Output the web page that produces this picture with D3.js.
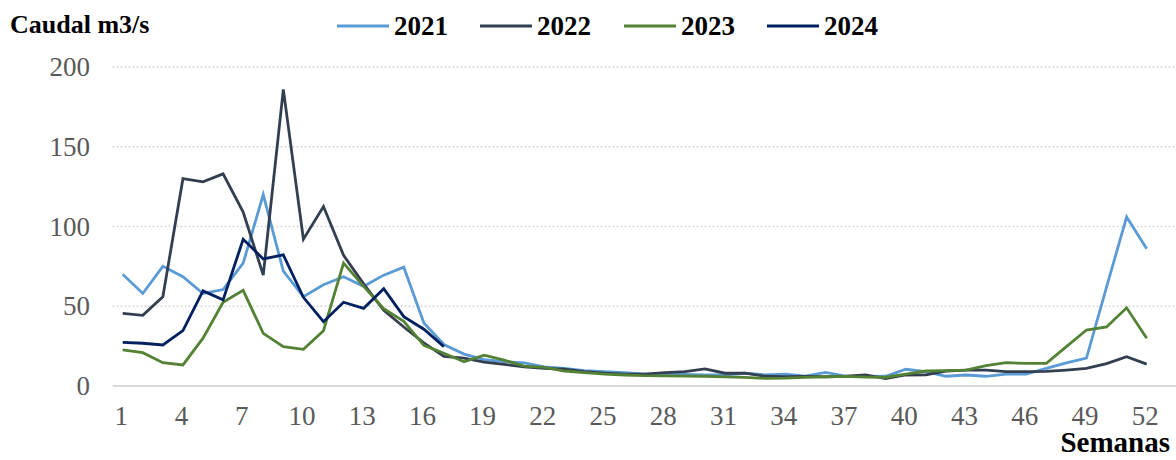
<!DOCTYPE html>
<html>
<head>
<meta charset="utf-8">
<script src="https://cdn.jsdelivr.net/npm/d3@7"></script>
<style>
  body { margin: 0; background: #fff; }
  svg text { font-family: 'Liberation Serif', 'Times New Roman', serif; }
</style>
</head>
<body>
<div id="chart"></div>
<script>
// weeks 1..52
var weeks = d3.range(1, 53);
var xTicks = [1, 4, 7, 10, 13, 16, 19, 22, 25, 28, 31, 34, 37, 40, 43, 46, 49, 52];
var yTicks = [0, 50, 100, 150, 200];

var names = ["2021", "2022", "2023", "2024"];
var colors = ["#5b9bd5", "#333f50", "#548235", "#002060"];

// caudal m3/s por semana
var q2021 = [70, 58, 75, 68.5, 58, 60.5, 77, 120, 72, 56,
  63.5, 68.5, 62.5, 69.5, 74.5, 39.5, 26, 20, 16.5, 15.3,
  14.5, 12, 11, 9.7, 9, 8.4, 7.5, 7.5, 7.2, 7, 7, 8, 7, 7.5,
  6.2, 8.5, 6.2, 6, 6.1, 10.5, 9, 6.1, 6.9, 6.1, 7.5, 7.5,
  11, 14.5, 17.5, 62, 106, 86];
var q2022 = [45.5, 44.3, 56, 130, 128, 133, 109, 69.5, 186, 92,
  112.5, 82, 64, 47.5, 37, 27, 18.5, 17.5, 15, 13.6,
  12, 11, 10.5, 9, 8, 7.5, 7.5, 8.4, 9, 10.7, 8, 8, 6.1, 5.8,
  6, 5.8, 6.1, 6.9, 4.6, 6.9, 7, 9.4, 10, 10, 9, 9,
  9.2, 10, 11, 14, 18.4, 13.7];
var q2023 = [22.6, 20.9, 14.6, 13.2, 30, 52.5, 60, 33, 24.7, 23,
  34.7, 77, 62.5, 48.5, 40.5, 25.5, 20.5, 15.2, 19.3, 16.2,
  12.5, 11.7, 9.4, 8.4, 7.5, 6.9, 6.5, 6.4, 6.2, 6.1, 5.7, 5.4, 4.8, 4.9,
  5.4, 5.8, 6, 5.6, 5.5, 7.5, 9.4, 9.6, 10, 12.8, 14.6, 14.2,
  14.2, 24.7, 35.1, 37, 49, 30];
var q2024 = [27.4, 26.8, 25.7, 34.7, 59.6, 54, 92, 79.7, 82.2, 55.6,
  40.3, 52.5, 48.7, 61, 43.5, 35.6, 24.7];

var series = [q2021, q2022, q2023, q2024];

var width = 1176, height = 460;
var svg = d3.select("#chart").append("svg")
  .attr("width", width)
  .attr("height", height);

var x = d3.scaleLinear().domain([1, 52]).range([122.7, 1146.7]);
var y = d3.scaleLinear().domain([0, 200]).range([386, 67]);
var plotLeft = 112.7, plotRight = 1176;

// gridlines
svg.append("g")
  .selectAll("line")
  .data(yTicks.filter(function (d) { return d > 0; }))
  .enter().append("line")
  .attr("x1", plotLeft).attr("x2", plotRight)
  .attr("y1", function (d) { return y(d); })
  .attr("y2", function (d) { return y(d); })
  .attr("stroke", "#d0d0d0")
  .attr("stroke-width", 1.6)
  .attr("stroke-dasharray", "1.6,2.4");

// baseline
svg.append("line")
  .attr("x1", plotLeft).attr("x2", plotRight)
  .attr("y1", y(0)).attr("y2", y(0))
  .attr("stroke", "#d9d9d9")
  .attr("stroke-width", 2);

// y axis labels
var yAxis = svg.append("g")
  .attr("transform", "translate(90,0)")
  .call(d3.axisLeft(y).tickValues(yTicks).tickSize(0).tickPadding(0));
yAxis.attr("font-family", null).attr("font-size", null);
yAxis.select(".domain").remove();
yAxis.selectAll("text")
  .attr("fill", "#595959")
  .style("font-size", "27px");

// x axis labels
var xAxis = svg.append("g")
  .attr("transform", "translate(-2,406)")
  .call(d3.axisBottom(x).tickValues(xTicks).tickSize(0).tickPadding(0)
    .tickFormat(d3.format("d")));
xAxis.attr("font-family", null).attr("font-size", null);
xAxis.select(".domain").remove();
xAxis.selectAll("text")
  .attr("fill", "#595959")
  .style("font-size", "27px");

// lines
var line = d3.line()
  .x(function (d, i) { return x(weeks[i]); })
  .y(function (d) { return y(d); });

series.forEach(function (s, k) {
  svg.append("path")
    .datum(s)
    .attr("fill", "none")
    .attr("stroke", colors[k])
    .attr("stroke-width", 2.8)
    .attr("stroke-linejoin", "miter")
    .attr("d", line);
});

// titles
svg.append("text")
  .attr("x", 10).attr("y", 33)
  .style("font-weight", "bold")
  .style("font-size", "26px")
  .text("Caudal m3/s");

svg.append("text")
  .attr("x", 1170).attr("y", 452)
  .attr("text-anchor", "end")
  .style("font-weight", "bold")
  .style("font-size", "29px")
  .text("Semanas");

// legend
var legX = [337, 480, 624, 767];
var legend = svg.append("g");
names.forEach(function (n, k) {
  legend.append("line")
    .attr("x1", legX[k]).attr("x2", legX[k] + 52)
    .attr("y1", 26).attr("y2", 26)
    .attr("stroke", colors[k])
    .attr("stroke-width", 2.8);
  legend.append("text")
    .attr("x", legX[k] + 57).attr("y", 35)
    .style("font-weight", "bold")
    .style("font-size", "27px")
    .text(n);
});
</script>
</body>
</html>
